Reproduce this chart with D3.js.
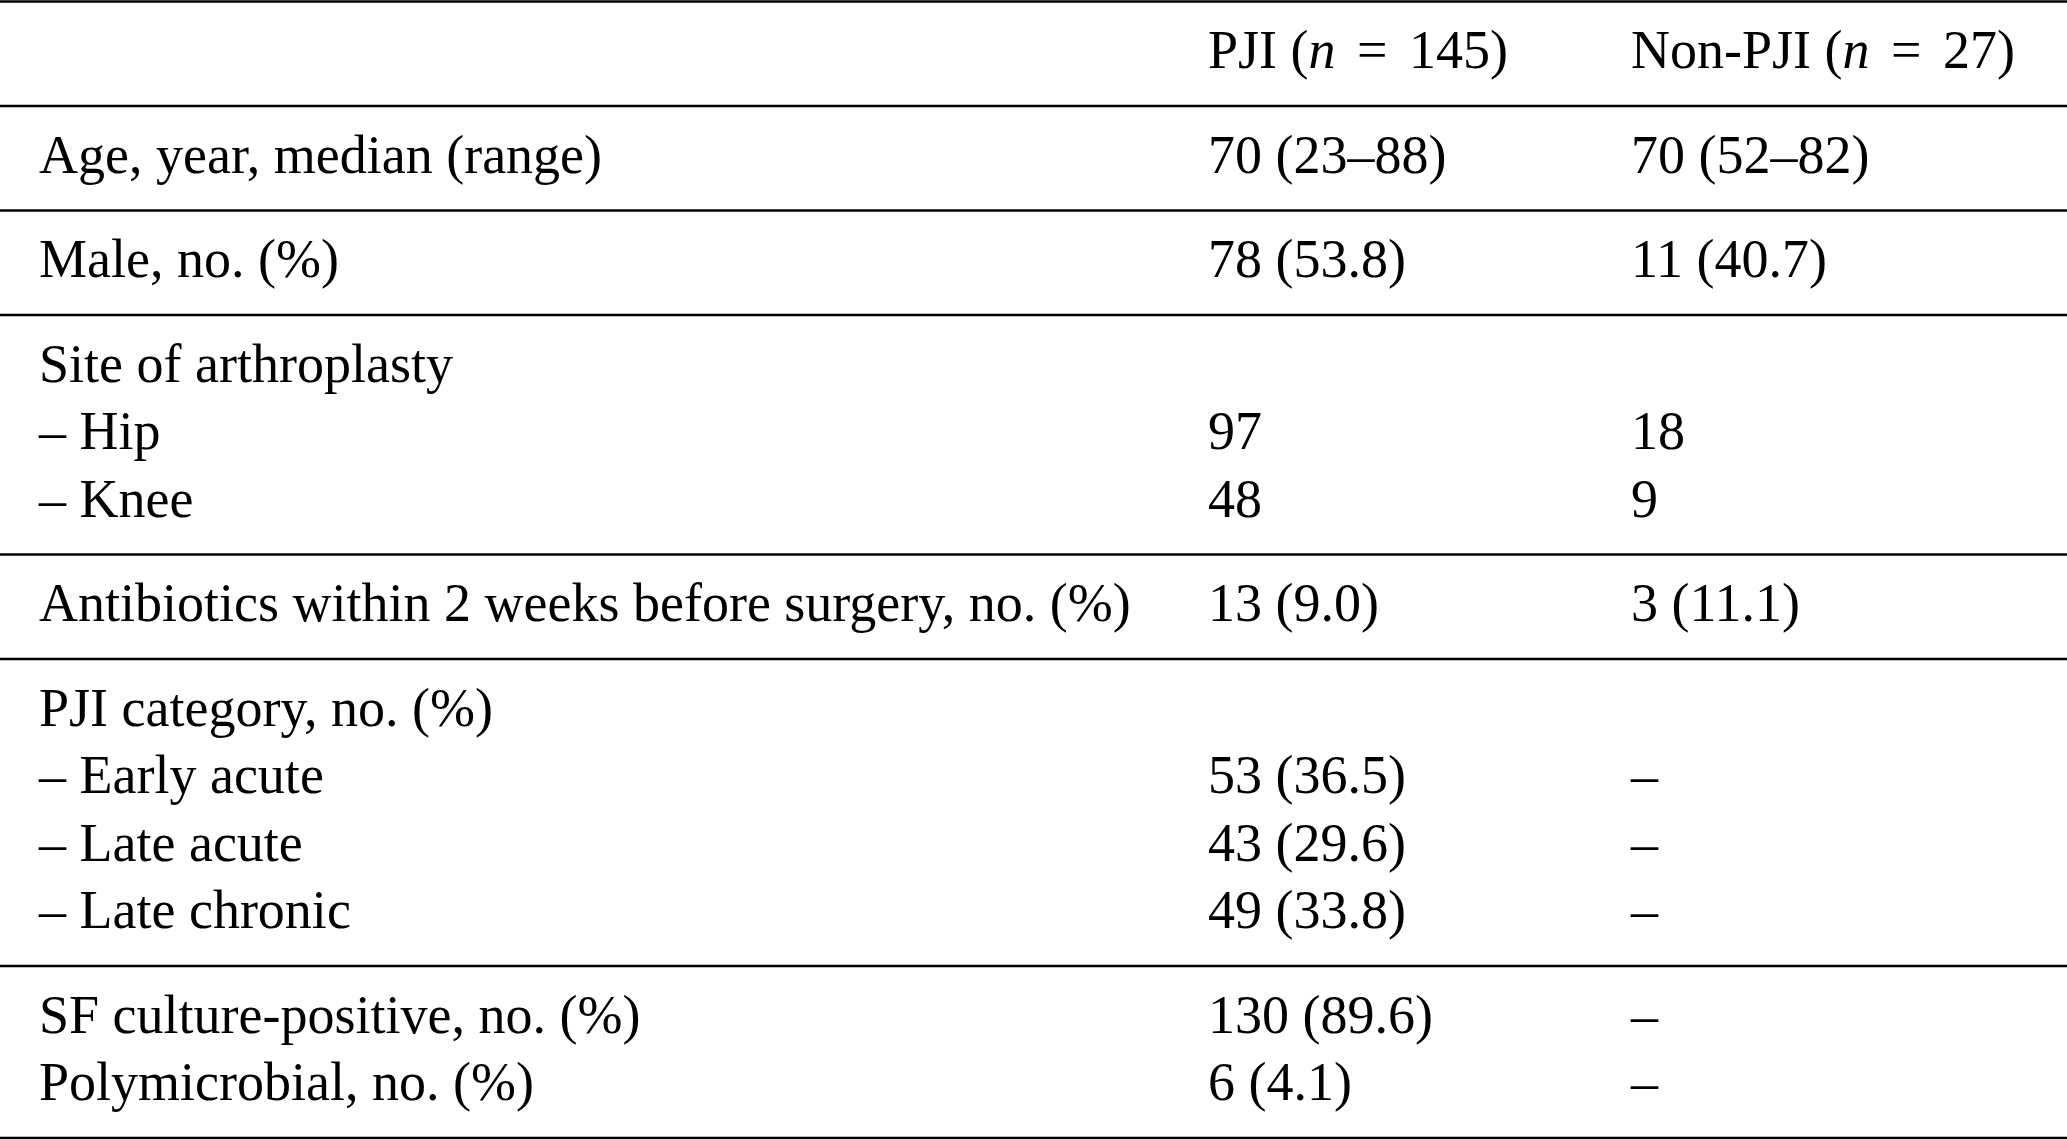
<!DOCTYPE html>
<html>
<head>
<meta charset="utf-8">
<script src="https://cdn.jsdelivr.net/npm/d3@7"></script>
<style>
  html, body { margin: 0; padding: 0; background: #fff; }
  svg { display: block; }
  text { font-family: "Liberation Serif", "Times New Roman", serif; fill: #000; }
</style>
</head>
<body>
<svg id="chart" width="2067" height="1139"></svg>
<script>
// table content, row by row, grouped into the ruled blocks
const headerCells = [
  [],
  [{t: "PJI ("}, {t: "n", i: true}, {t: " =", gap: true}, {t: " 145)", gap: true}],
  [{t: "Non-PJI ("}, {t: "n", i: true}, {t: " =", gap: true}, {t: " 27)", gap: true}]
];
const rowLabels = [
  ["Age, year, median (range)"],
  ["Male, no. (%)"],
  ["Site of arthroplasty", "\u2013 Hip", "\u2013 Knee"],
  ["Antibiotics within 2 weeks before surgery, no. (%)"],
  ["PJI category, no. (%)", "\u2013 Early acute", "\u2013 Late acute", "\u2013 Late chronic"],
  ["SF culture-positive, no. (%)", "Polymicrobial, no. (%)"]
];
const pjiValues = [
  ["70 (23\u201388)"],
  ["78 (53.8)"],
  ["", "97", "48"],
  ["13 (9.0)"],
  ["", "53 (36.5)", "43 (29.6)", "49 (33.8)"],
  ["130 (89.6)", "6 (4.1)"]
];
const nonPjiValues = [
  ["70 (52\u201382)"],
  ["11 (40.7)"],
  ["", "18", "9"],
  ["3 (11.1)"],
  ["", "\u2013", "\u2013", "\u2013"],
  ["\u2013", "\u2013"]
];

const W = 2067, H = 1139;
const svg = d3.select("#chart");
const fontSize = 54;
const lineStep = 67.5;   // baseline to baseline inside a block
const blockPad = 37;     // extra space added by each ruled block
const firstBase = 66.5;  // rule to first baseline
const mathGap = 8;       // extra room round the "=" sign

// column positions
const colX = d3.scaleOrdinal().domain([0, 1, 2]).range([39, 1208, 1631]);

// all blocks: header first, then body blocks
const blocks = [[headerCells]].concat(rowLabels.map((labels, b) =>
  labels.map((lab, r) => [[{t: lab}], [{t: pjiValues[b][r]}], [{t: nonPjiValues[b][r]}]])
));

// rule positions accumulate from block sizes
const ruleY = [1.5];
blocks.forEach(rows => {
  ruleY.push(ruleY[ruleY.length - 1] + blockPad + rows.length * lineStep);
});

svg.selectAll("line.rule")
  .data(ruleY)
  .join("line")
  .attr("class", "rule")
  .attr("x1", 0).attr("x2", W)
  .attr("y1", d => d).attr("y2", d => d)
  .attr("stroke", "#000")
  .attr("stroke-width", 2.7);

const cells = [];
blocks.forEach((rows, b) => {
  rows.forEach((row, r) => {
    row.forEach((parts, c) => {
      cells.push({parts, col: c, y: ruleY[b] + firstBase + r * lineStep});
    });
  });
});

const txt = svg.selectAll("text.cell")
  .data(cells.filter(d => d.parts.length && d.parts.some(p => p.t)))
  .join("text")
  .attr("class", "cell")
  .attr("x", d => colX(d.col))
  .attr("y", d => d.y)
  .attr("font-size", fontSize)
  .attr("xml:space", "preserve");

txt.selectAll("tspan")
  .data(d => d.parts)
  .join("tspan")
  .attr("font-style", p => p.i ? "italic" : null)
  .attr("dx", p => p.gap ? mathGap : null)
  .text(p => p.t);
</script>
</body>
</html>
